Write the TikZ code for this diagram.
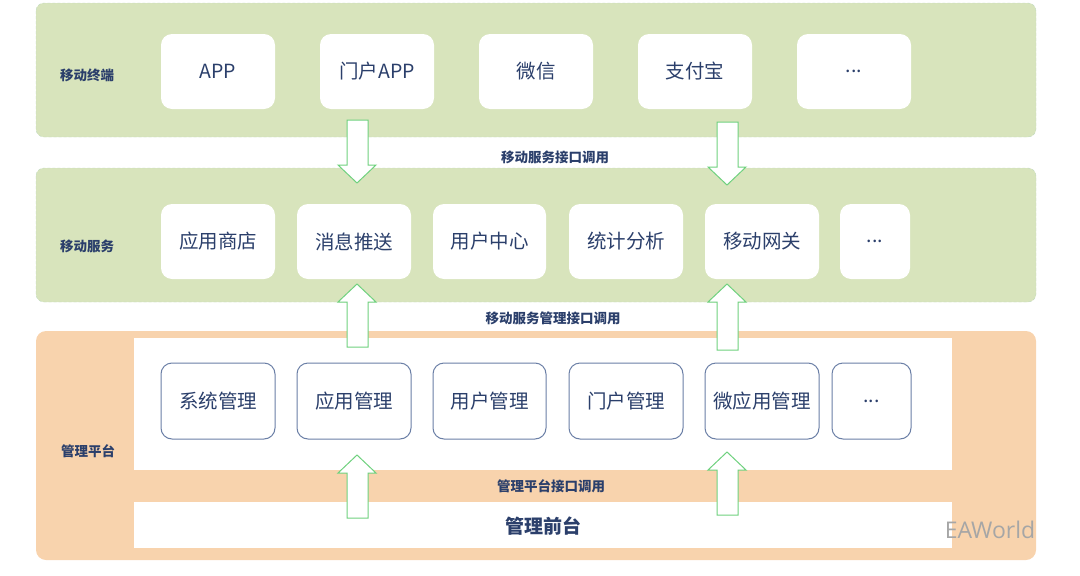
\documentclass[tikz,border=0pt]{standalone}
\usepackage{fontspec}
\setmainfont{Noto Sans CJK SC}
\newfontfamily\wmfont{Open Sans}
\newcommand\myell{...}
\begin{document}
\begin{tikzpicture}[x=1pt,y=-1pt,
  layer/.style={draw=green!40!black!25!white,densely dashed,fill=lgreen,rounded corners=8pt},
  wbox/.style={fill=white,rounded corners=11pt},
  mbox/.style={fill=white,draw=boxline,line width=1pt,rounded corners=11pt},
  btxt/.style={text=txtblue,font=\fontsize{19.5}{19.5}\selectfont},
  ltxt/.style={text=txtblue,font=\fontsize{13.5}{13.5}\selectfont\bfseries},
  fat/.style={draw=arrgreen,fill=white,line width=1pt}]
\definecolor{lgreen}{HTML}{D8E4BC}
\definecolor{lorange}{HTML}{F8D3AD}
\definecolor{boxline}{HTML}{6B7FA6}
\definecolor{txtblue}{HTML}{2B3F6B}
\definecolor{arrgreen}{HTML}{6FD17E}
\useasboundingbox (0,0) rectangle (1080,576);
% layers
\path[layer] (36,3) rectangle (1036,137);
\path[layer] (36,168) rectangle (1036,302);
\path[fill=lorange,rounded corners=10pt] (36,331) rectangle (1036,560);
\fill[white] (134,338) rectangle (952,470);
\fill[white] (134,502) rectangle (952,548);
% layer labels
\node[ltxt] (l1) at (87,75) {移动终端};
\node[ltxt] (l2) at (87,246) {移动服务};
\node[ltxt] (l3) at (88,451) {管理平台};
% top boxes
\foreach \a/\t [count=\i] in {161/APP,320/门户APP,479/微信,638/支付宝,797/\myell}{
  \path[wbox] (\a,34) rectangle ++(114,75);
  \node[btxt] (t\i) at (\a+57,71.5) {\t};
}
% middle boxes
\foreach \a/\w/\t [count=\i] in {161/114/应用商店,297/114/消息推送,433/113/用户中心,569/114/统计分析,705/114/移动网关,840/70/\myell}{
  \path[wbox] (\a,204) rectangle ++(\w,75);
  \node[btxt] (m\i) at (\a+\w/2,241.5) {\t};
}
% management boxes
\foreach \a/\w/\t [count=\i] in {161/114/系统管理,297/114/应用管理,433/113/用户管理,569/114/门户管理,705/114/微应用管理,832/79/\myell}{
  \path[mbox] (\a,363) rectangle ++(\w,76);
  \node[btxt] (g\i) at (\a+\w/2,401) {\t};
}
% block arrows
\draw[fat] (347,120) -- (368,120) -- (368,165) -- (376,165) -- (357,183) -- (338,165) -- (347,165) -- cycle;
\draw[fat] (717,122) -- (738,122) -- (738,167) -- (746,167) -- (727,185) -- (708,167) -- (717,167) -- cycle;
\draw[fat] (347,347) -- (368,347) -- (368,302) -- (376,302) -- (357,284) -- (338,302) -- (347,302) -- cycle;
\draw[fat] (717,350) -- (738,350) -- (738,302) -- (746,302) -- (727,284) -- (708,302) -- (717,302) -- cycle;
\draw[fat] (347,518) -- (368,518) -- (368,473) -- (376,473) -- (357,455) -- (338,473) -- (347,473) -- cycle;
\draw[fat] (717,515) -- (738,515) -- (738,470) -- (746,470) -- (727,452) -- (708,470) -- (717,470) -- cycle;
% interface labels
\node[ltxt] (i1) at (555,157) {移动服务接口调用};
\node[ltxt] (i2) at (553,318) {移动服务管理接口调用};
\node[ltxt] (i3) at (551,486) {管理平台接口调用};
\node[text=txtblue,font=\fontsize{19}{19}\selectfont\bfseries] (fp) at (543,526) {管理前台};
% watermark
\node[text=gray!70,font=\wmfont\fontsize{23}{23}\selectfont] (wm) at (990,530) {EAWorld};
\end{tikzpicture}
\end{document}
